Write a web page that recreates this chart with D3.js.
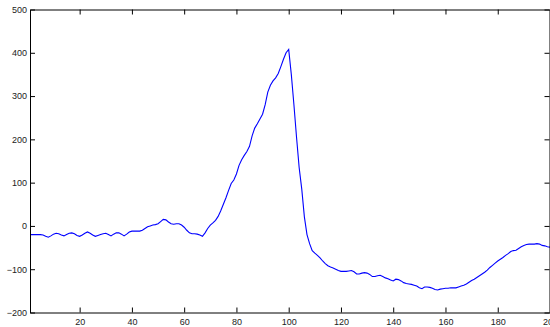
<!DOCTYPE html>
<html>
<head>
<meta charset="utf-8">
<script src="https://cdn.jsdelivr.net/npm/d3@7"></script>
<style>
  html, body { margin: 0; padding: 0; background: #fff; overflow: hidden; }
  svg { display: block; }
  .tick text { font-family: "Liberation Sans", Arial, Helvetica, sans-serif; font-size: 9px; fill: #222; }
</style>
</head>
<body>
<div id="chart"></div>
<script>
const WIDTH = 550
const HEIGHT = 327
const margin = { top: 9.5, right: 0, bottom: 14.5, left: 30 }

// signal sampled at x = 1..200
const values = [
  -20, -20, -20, -20, -20, -21, -24, -26, -23, -19,
  -17, -18, -21, -23, -20, -17, -16, -18, -22, -24,
  -21, -17, -14, -17, -21, -24, -22, -20, -18, -17,
  -20, -23, -19, -16, -16, -19, -23, -19, -14, -12,
  -12, -12, -12, -10, -6, -2, 0, 2, 3, 5,
  10, 15, 14, 9, 5, 4, 5, 5, 2, -3,
  -10, -16, -18, -18, -19, -21, -24, -16, -6, 2,
  7, 13, 22, 35, 50, 65, 82, 98, 106, 120,
  140, 153, 163, 172, 184, 208, 226, 236, 247, 258,
  280, 309, 325, 335, 342, 352, 368, 385, 400, 408,
  350, 280, 205, 135, 85, 21, -20, -41, -57, -63,
  -68, -74, -81, -87, -92, -95, -97, -100, -103, -105,
  -105, -105, -104, -103, -106, -111, -111, -109, -108, -109,
  -112, -117, -117, -115, -114, -117, -120, -122, -125, -127,
  -123, -124, -127, -131, -133, -134, -135, -137, -139, -143,
  -145, -141, -141, -142, -144, -147, -148, -146, -145, -144,
  -144, -143, -143, -143, -141, -139, -137, -134, -130, -126,
  -123, -119, -115, -111, -107, -102, -96, -91, -86, -81,
  -77, -73, -68, -64, -59, -57, -56, -52, -48, -45,
  -43, -42, -42, -42, -41, -42, -45, -46, -48, -49
]
const xValues = values.map((v, i) => i + 1)

const xTicks = [20, 40, 60, 80, 100, 120, 140, 160, 180, 200]
const yTicks = [-200, -100, 0, 100, 200, 300, 400, 500]

const svg = d3.select('#chart')
  .append('svg')
  .attr('width', WIDTH)
  .attr('height', HEIGHT)

const x = d3.scaleLinear()
  .domain([1, 200])
  .range([margin.left, WIDTH - margin.right])

const y = d3.scaleLinear()
  .domain([-200, 500])
  .range([HEIGHT - margin.bottom, margin.top])

// the curve
const line = d3.line()
  .x((d, i) => x(xValues[i]))
  .y(d => y(d))

svg.append('path')
  .datum(values)
  .attr('fill', 'none')
  .attr('stroke', '#0000ff')
  .attr('stroke-width', 1.1)
  .attr('d', line)

// box axes with inward ticks, matlab style
const tickLen = 5

svg.append('g')
  .attr('transform', `translate(0, ${y(-200)})`)
  .call(d3.axisBottom(x).tickValues(xTicks).tickSize(-tickLen).tickPadding(6).tickSizeOuter(0))

svg.append('g')
  .attr('transform', `translate(0, ${y(500)})`)
  .call(d3.axisTop(x).tickValues(xTicks).tickSize(-tickLen).tickFormat('').tickSizeOuter(0))

svg.append('g')
  .attr('transform', `translate(${x(1)}, 0)`)
  .call(d3.axisLeft(y).tickValues(yTicks).tickSize(-tickLen).tickPadding(3).tickSizeOuter(0))

svg.append('g')
  .attr('transform', `translate(${x(200) - 0.5}, 0)`)
  .call(d3.axisRight(y).tickValues(yTicks).tickSize(-tickLen).tickFormat('').tickSizeOuter(0))

svg.selectAll('.domain').attr('stroke', '#000').attr('stroke-width', 1)
svg.selectAll('.tick line').attr('stroke', '#000')
</script>
</body>
</html>
